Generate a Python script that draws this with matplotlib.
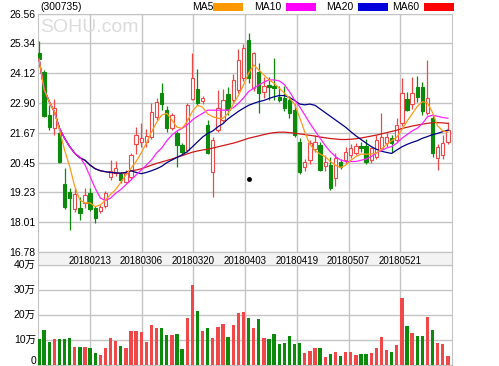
import numpy as np
import matplotlib
matplotlib.use("Agg")
import matplotlib.pyplot as plt
from matplotlib.patches import Rectangle

# ---- data (price in CNY, volume in 万) ----
opens = [24.95, 24.18, 22.40, 21.86, 21.65, 19.58, 19.26, 18.54, 18.58, 18.79,
         19.22, 18.58, 18.48, 18.68, 19.85, 20.04, 19.97, 19.67, 19.88, 21.20,
         21.31, 21.30, 21.51, 22.33, 23.32, 22.61, 21.86, 21.65, 21.17, 20.97,
         23.06, 23.46, 22.98, 22.00, 20.08, 21.79, 22.20, 23.26, 23.02, 23.43,
         23.91, 25.47, 23.50, 24.18, 23.36, 23.63, 23.60, 23.15, 23.09, 23.02,
         22.60, 21.30, 20.29, 20.56, 21.00, 21.17, 20.31, 20.36, 19.81, 20.49,
         20.56, 20.77, 20.86, 21.13, 21.13, 20.56, 20.70, 21.04, 21.24, 21.45,
         21.38, 22.07, 23.05, 22.85, 23.55, 23.55, 22.50, 22.28, 20.63, 20.77,
         21.31]
highs = [25.45, 24.25, 22.81, 23.05, 21.72, 20.22, 19.43, 19.40, 19.06, 19.40,
         19.40, 18.68, 18.72, 19.29, 20.56, 20.53, 20.08, 20.15, 20.85, 21.93,
         22.06, 21.85, 22.88, 23.09, 23.70, 22.77, 22.47, 21.75, 21.25, 22.88,
         24.93, 24.27, 23.20, 22.20, 21.50, 23.43, 23.46, 23.56, 24.08, 25.09,
         25.30, 25.77, 25.00, 24.55, 23.97, 23.95, 24.75, 23.59, 23.59, 23.20,
         22.85, 21.46, 20.60, 21.38, 21.58, 21.30, 20.75, 20.70, 20.85, 20.60,
         21.10, 21.20, 21.25, 21.30, 21.40, 21.10, 21.60, 22.50, 21.65, 21.60,
         22.30, 23.90, 23.36, 23.95, 24.00, 23.77, 24.66, 22.40, 21.20, 21.60,
         22.13]
lows = [24.53, 22.31, 21.79, 21.58, 20.43, 18.55, 17.69, 18.45, 18.10, 18.58,
        18.47, 17.97, 18.38, 18.60, 19.74, 19.91, 19.61, 19.60, 19.80, 20.80,
        21.10, 21.10, 21.40, 22.20, 22.61, 21.72, 21.80, 20.29, 20.77, 20.90,
        23.00, 22.81, 22.85, 20.80, 19.06, 21.70, 22.10, 22.40, 22.90, 23.30,
        23.80, 23.70, 23.40, 22.47, 23.10, 23.00, 23.00, 22.95, 22.55, 22.30,
        21.50, 20.00, 20.10, 20.40, 20.90, 20.10, 20.10, 19.35, 19.50, 20.20,
        20.45, 20.65, 20.75, 20.90, 20.40, 20.45, 20.60, 20.95, 21.10, 20.90,
        21.30, 21.95, 22.55, 22.65, 22.95, 22.40, 22.40, 20.70, 20.15, 20.60,
        21.20]
closes = [24.68, 22.37, 21.90, 22.68, 20.49, 18.62, 18.99, 19.17, 18.38, 19.13,
          18.54, 18.17, 18.62, 19.20, 20.12, 20.25, 19.74, 20.01, 20.77, 21.60,
          21.45, 21.55, 22.54, 22.95, 22.85, 21.86, 22.40, 21.17, 20.90, 22.81,
          23.91, 22.91, 23.09, 20.85, 21.38, 22.68, 23.02, 22.61, 23.84, 24.66,
          25.13, 23.91, 24.93, 23.29, 23.59, 23.54, 23.50, 23.02, 22.68, 22.47,
          21.58, 20.08, 20.49, 21.24, 21.31, 20.15, 20.49, 19.40, 20.63, 20.29,
          20.90, 21.04, 21.13, 21.05, 20.49, 21.04, 21.38, 21.51, 21.51, 21.24,
          21.99, 23.29, 22.61, 23.30, 23.15, 22.55, 23.09, 20.83, 21.11, 21.24,
          21.79]
volumes = [10.3, 14.0, 9.2, 10.5, 10.5, 10.5, 10.8, 7.1, 7.4, 7.4,
           6.7, 4.7, 4.1, 7.0, 10.8, 9.5, 7.8, 6.7, 13.6, 13.6,
           13.3, 9.2, 16.0, 14.7, 14.7, 11.9, 11.9, 12.6, 6.6, 18.8,
           32.2, 21.5, 13.6, 14.9, 10.8, 15.2, 16.3, 11.1, 16.0, 20.8,
           21.2, 19.0, 15.0, 18.5, 11.0, 10.5, 12.3, 8.5, 8.8, 11.5,
           8.5, 9.0, 4.9, 5.8, 6.7, 7.0, 3.3, 4.4, 5.3, 3.7,
           5.1, 5.3, 4.1, 4.4, 4.4, 4.7, 7.0, 11.1, 6.2, 5.1,
           8.1, 27.0, 15.6, 12.9, 11.8, 11.8, 19.3, 14.2, 8.8, 8.5,
           3.6]

ma5 = [24.70, 23.45, 22.95, 22.54, 21.79, 20.97, 20.29, 19.47, 18.92, 18.80,
       18.80, 18.65, 18.72, 18.92, 19.15, 19.35, 19.65, 19.95, 20.22, 20.50,
       20.85, 21.25, 21.70, 22.10, 22.40, 22.47, 22.20, 21.90, 21.86, 22.15,
       22.55, 22.80, 22.72, 22.45, 22.33, 22.27, 22.27, 22.47, 22.85, 23.20,
       23.63, 24.11, 24.45, 24.25, 24.04, 23.84, 23.70, 23.50, 23.30, 23.09,
       22.85, 22.30, 21.70, 21.20, 20.95, 20.80, 20.70, 20.50, 20.35, 20.25,
       20.35, 20.55, 20.70, 20.80, 20.80, 20.80, 20.85, 21.00, 21.20, 21.35,
       21.50, 21.80, 22.15, 22.45, 22.75, 22.95, 22.90, 22.50, 21.95, 21.75,
       21.70]
ma10 = [24.70, 23.45, 22.95, 22.54, 21.86, 21.45, 21.11, 20.83, 20.68, 20.36,
        19.88, 19.40, 19.00, 18.90, 19.00, 19.20, 19.35, 19.55, 19.74, 19.95,
        20.15, 20.35, 20.56, 20.85, 21.05, 21.35, 21.58, 21.75, 21.86, 22.00,
        22.20, 22.35, 22.47, 22.60, 22.60, 22.60, 22.60, 22.60, 22.70, 22.88,
        23.10, 23.36, 23.50, 23.63, 23.75, 23.84, 23.84, 23.80, 23.65, 23.36,
        23.02, 22.74, 22.40, 22.06, 21.75, 21.45, 21.15, 20.90, 20.70, 20.56,
        20.50, 20.50, 20.50, 20.55, 20.60, 20.70, 20.85, 20.95, 21.05, 21.11,
        21.25, 21.45, 21.60, 21.75, 21.86, 22.05, 22.33, 22.40, 22.35, 22.30,
        22.27]
ma20 = [24.70, 23.45, 22.95, 22.54, 21.86, 21.45, 21.11, 20.83, 20.65, 20.55,
        20.35, 20.20, 20.12, 20.08, 20.05, 20.03, 20.02, 20.05, 20.12, 20.05,
        20.00, 20.05, 20.12, 20.20, 20.30, 20.45, 20.56, 20.67, 20.77, 20.90,
        21.10, 21.30, 21.50, 21.65, 21.75, 21.92, 22.05, 22.25, 22.40, 22.55,
        22.68, 22.80, 22.88, 22.95, 23.00, 23.08, 23.15, 23.20, 23.20, 23.12,
        23.00, 22.85, 22.82, 22.85, 22.80, 22.65, 22.50, 22.35, 22.20, 22.05,
        21.90, 21.72, 21.55, 21.40, 21.25, 21.11, 21.00, 20.92, 20.87, 20.83,
        20.97, 21.10, 21.20, 21.28, 21.35, 21.45, 21.52, 21.60, 21.65, 21.72,
        21.78]
ma60 = [24.70, 23.45, 22.95, 22.54, 21.86, 21.45, 21.11, 20.83, 20.65, 20.55,
        20.35, 20.20, 20.12, 20.08, 20.05, 20.03, 20.02, 20.05, 20.12, 20.15,
        20.20, 20.27, 20.35, 20.42, 20.48, 20.54, 20.60, 20.67, 20.74, 20.81,
        20.88, 20.93, 20.97, 21.00, 21.05, 21.10, 21.15, 21.20, 21.25, 21.31,
        21.38, 21.45, 21.50, 21.55, 21.60, 21.65, 21.68, 21.70, 21.70, 21.68,
        21.66, 21.63, 21.60, 21.57, 21.54, 21.50, 21.47, 21.44, 21.42, 21.40,
        21.40, 21.41, 21.43, 21.46, 21.50, 21.54, 21.58, 21.63, 21.68, 21.73,
        21.78, 21.85, 21.90, 21.95, 21.99, 22.03, 22.06, 22.09, 22.09, 22.08,
        22.06]

date_labels = ["20180213", "20180306", "20180320", "20180403",
               "20180419", "20180507", "20180521"]
price_ticks = [16.78, 18.01, 19.23, 20.45, 21.67, 22.90, 24.12, 25.34, 26.56]
vol_ticks = [0, 10, 20, 30, 40]
vol_tick_labels = ["0", "10万", "20万", "30万", "40万"]
marker_dot = (41.15, 19.80)

RED = "#f04848"
GREEN = "#0c8a0c"
GRID = "#c4c4c4"
FONT = ["Liberation Sans", "Noto Sans CJK SC", "DejaVu Sans"]
plt.rcParams["font.family"] = FONT

W, H = 499, 366
fig = plt.figure(figsize=(W / 100, H / 100), dpi=100)


def frac(x0, y0, x1, y1):
    # pixel box -> figure fraction rect
    return [x0 / W, 1 - y1 / H, (x1 - x0) / W, (y1 - y0) / H]


n = len(closes)
x = np.arange(n)
xlim = (-0.2, n - 0.2)
vgrid = np.linspace(xlim[0], xlim[1], 9)[1:-1]

# date band between the two panels
band = fig.add_axes(frac(38, 252.3, 452, 265))
band.set_facecolor("#f3f3f3")
band.set_xticks([])
band.set_yticks([])
for s in band.spines.values():
    s.set_color(GRID)

# ---- price panel ----
ax = fig.add_axes(frac(38, 13.5, 452, 252.3))
ax.set_xlim(*xlim)
ax.set_ylim(price_ticks[0], price_ticks[-1])
ax.set_yticks(price_ticks)
ax.set_yticklabels([f"{p:.2f}" for p in price_ticks], fontsize=7.5)
ax.set_xticks(vgrid)
ax.set_xticklabels(date_labels, fontsize=7)
ax.tick_params(length=0, pad=2)
ax.tick_params(axis="x", pad=2.5)
ax.grid(True, color=GRID, linewidth=1)
ax.set_axisbelow(True)
for s in ax.spines.values():
    s.set_color(GRID)

ax.text(0.005, 0.94, "SOHU.com", transform=ax.transAxes, fontsize=14,
        color="#dcdcdc", va="center", ha="left", zorder=1)

for i in range(n):
    o, h, l, c = opens[i], highs[i], lows[i], closes[i]
    up = c >= o
    col = RED if up else GREEN
    ax.vlines(i, l, h, color=col, linewidth=0.9, zorder=2)
    lo, hi = min(o, c), max(o, c)
    ax.add_patch(Rectangle((i - 0.33, lo), 0.66, max(hi - lo, 0.015),
                           facecolor="white" if up else GREEN,
                           edgecolor=col, linewidth=0.8, zorder=3))

ax.plot(x, ma60, color="#cc1a1a", linewidth=0.9, zorder=4)
ax.plot(x, ma20, color="#000088", linewidth=0.9, zorder=5)
ax.plot(x, ma10, color="#ff22ff", linewidth=0.9, zorder=6)
ax.plot(x, ma5, color="#ff9a1a", linewidth=0.9, zorder=7)
ax.plot(*marker_dot, "o", color="black", markersize=2.5, zorder=8)

# ---- volume panel ----
vx = fig.add_axes(frac(38, 265, 452, 365))
vx.set_xlim(*xlim)
vx.set_ylim(0, 40)
vcolors = [RED if closes[i] >= opens[i] else GREEN for i in range(n)]
vx.bar(x, volumes, width=0.66, color=vcolors, zorder=3)
vx.set_xticks(vgrid)
vx.set_xticklabels([])
vx.set_yticks(vol_ticks)
vx.set_yticklabels([])
vx.tick_params(length=0)
vx.grid(True, color=GRID, linewidth=1)
vx.set_axisbelow(True)
for s in vx.spines.values():
    s.set_color(GRID)
for v, lab in zip(vol_ticks, vol_tick_labels):
    vx.text(-0.005, v if v > 0 else 1.4, lab, transform=vx.get_yaxis_transform(),
            ha="right", va="center", fontsize=7.5)

# ---- header: code and MA legend ----
fig.text(40 / W, 1 - 7.5 / H, "(300735)", fontsize=7.5, va="center", ha="left")
legend = [("MA5", 192, "#ff9900"), ("MA10", 254, "#ff00ff"),
          ("MA20", 326, "#0000dd"), ("MA60", 392, "#ff0000")]
for name, px, colr in legend:
    fig.text(px / W, 1 - 7.5 / H, name, fontsize=7.5, va="center", ha="left")
    sw = 213 - 192 if name == "MA5" else 32
    fig.patches.append(Rectangle((( px + sw) / W, 1 - 10.5 / H), 30 / W, 7 / H,
                                 transform=fig.transFigure, facecolor=colr,
                                 edgecolor="none"))

fig.savefig("out.png", dpi=100)
